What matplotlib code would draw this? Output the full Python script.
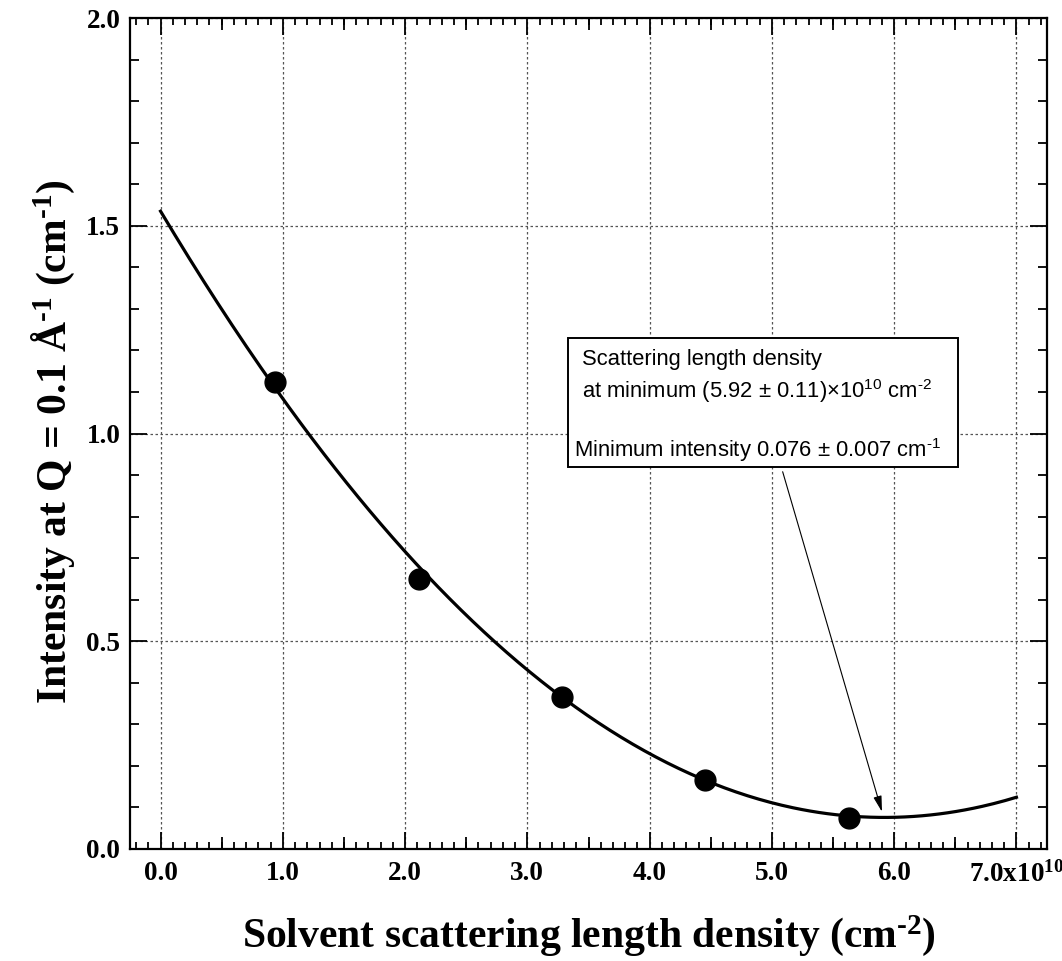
import numpy as np
import matplotlib
matplotlib.use("Agg")
import matplotlib.pyplot as plt
from matplotlib.patches import Rectangle
from matplotlib.ticker import MultipleLocator

plt.rcParams["font.family"] = "Liberation Serif"
plt.rcParams["font.weight"] = "bold"
plt.rcParams["axes.labelweight"] = "bold"
plt.rcParams["mathtext.fontset"] = "custom"
plt.rcParams["mathtext.default"] = "regular"

# Measured intensities vs solvent SLD (x in units of 1e10 cm^-2)
sld = [0.94, 2.11, 3.285, 4.45, 5.63]
intensity = [1.125, 0.650, 0.367, 0.166, 0.075]

# Parabolic fit: minimum from the annotation, intercept
fit_sld_min = 5.92
fit_int_min = 0.076
fit_int_zero = 1.535

HY = "\u2010"  # short hyphen for superscripts, like the original
xtick_vals = [0, 1, 2, 3, 4, 5, 6, 7]
xtick_labels = ["0.0", "1.0", "2.0", "3.0", "4.0", "5.0", "6.0", r"7.0x10$^{10}$"]
ytick_vals = [0.0, 0.5, 1.0, 1.5, 2.0]
ytick_labels = ["0.0", "0.5", "1.0", "1.5", "2.0"]

fig = plt.figure(figsize=(10.62, 9.61), dpi=100)
fig.subplots_adjust(left=130 / 1062, right=1047 / 1062, bottom=1 - 849 / 961, top=1 - 18 / 961)
ax = fig.add_subplot(111)

curv = (fit_int_zero - fit_int_min) / fit_sld_min ** 2
xfit = np.linspace(0, 7, 300)
yfit = fit_int_min + curv * (xfit - fit_sld_min) ** 2
ax.plot(xfit, yfit, color="black", lw=2.3, zorder=3)
ax.plot(sld, intensity, "o", color="black", markersize=15, zorder=4)

ax.set_xlim(-0.25, 7.25)
ax.set_ylim(0, 2.0)
ax.set_xticks(xtick_vals)
ax.set_xticklabels(xtick_labels)
ax.set_yticks(ytick_vals)
ax.set_yticklabels(ytick_labels)
ax.xaxis.set_minor_locator(MultipleLocator(0.1))
ax.yaxis.set_minor_locator(MultipleLocator(0.1))
ax.tick_params(which="both", direction="in", top=True, right=True, width=1.3)
ax.tick_params(which="major", length=12, labelsize=19.5)
ax.tick_params(axis="x", which="major", pad=9)
ax.tick_params(axis="y", which="major", pad=7)
ax.tick_params(axis="x", which="minor", length=5)
ax.tick_params(axis="y", which="minor", length=6.5)
for s in ax.spines.values():
    s.set_linewidth(1.6)

# medium ticks at the half-units on the x axis
for loc in ("bottom", "top"):
    sec = ax.secondary_xaxis(loc)
    sec.set_xticks(np.arange(0.5, 7.0, 1.0))
    sec.tick_params(direction="in", length=8.5, width=1.3,
                    labelbottom=False, labeltop=False)
    for s in sec.spines.values():
        s.set_visible(False)

ax.grid(which="major", linestyle=(0, (2, 2)), linewidth=0.9, color="#555555")
ax.set_axisbelow(True)

ax.set_xlabel("Solvent scattering length density (cm$^{" + HY + "2}$)",
              fontsize=30, labelpad=18)
ax.set_ylabel("Intensity at Q = 0.1 Å$^{" + HY + "1}$ (cm$^{" + HY + "1}$)", fontsize=30)
ax.yaxis.set_label_coords(-0.058, 0.49)

# annotation box
ax.add_patch(Rectangle((3.336, 0.919), 3.189, 0.311, facecolor="white",
                       edgecolor="black", lw=1.4, zorder=5))
box_kw = dict(family="Liberation Sans", fontweight="normal", fontsize=15.8,
              va="baseline", ha="left", zorder=6)
ax.text(3.45, 1.165, "Scattering length density", **box_kw)
ax.text(3.45, 1.085, "at minimum (5.92 ± 0.11)×10$^{10}$ cm$^{" + HY + "2}$", **box_kw)
ax.text(3.385, 0.944, "Minimum intensity 0.076 ± 0.007 cm$^{" + HY + "1}$", **box_kw)

ax.annotate("", xy=(5.90, 0.0897), xytext=(5.088, 0.908),
            arrowprops=dict(arrowstyle="-|>,head_length=0.95,head_width=0.25",
                            color="black", lw=0.8, shrinkA=0, shrinkB=0),
            zorder=6)

fig.savefig("out.png", dpi=100)
